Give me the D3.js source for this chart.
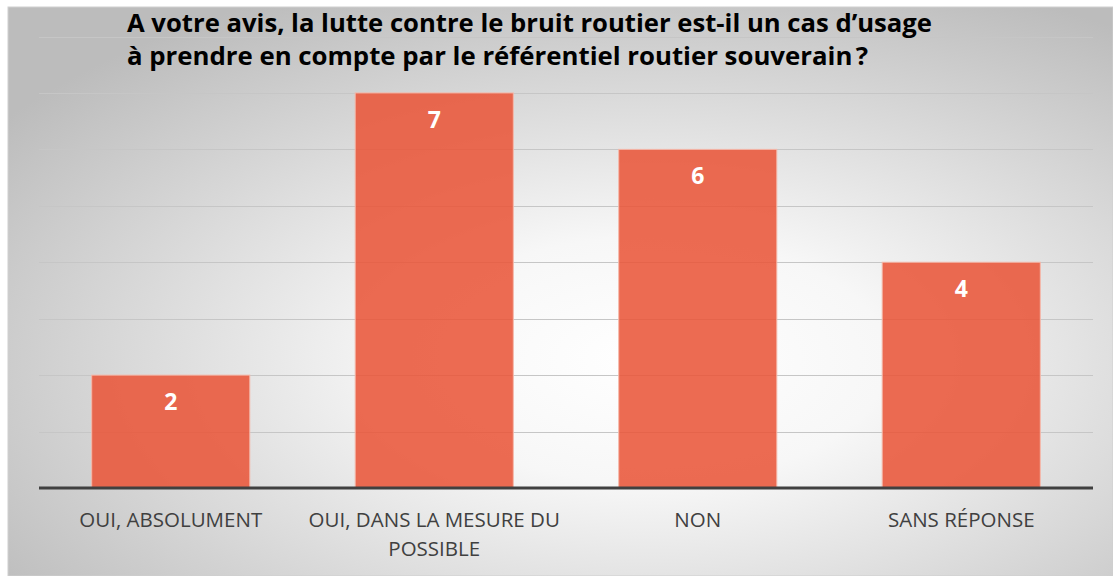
<!DOCTYPE html>
<html><head><meta charset="utf-8">
<script src="https://cdn.jsdelivr.net/npm/d3@7"></script>
<style>html,body{margin:0;padding:0;background:#fff;}</style>
</head><body>
<svg id="c" width="1113" height="576"></svg>
<script>
const categories = ["OUI, ABSOLUMENT", "OUI, DANS LA MESURE DU POSSIBLE", "NON", "SANS RÉPONSE"];
const values = [2, 7, 6, 4];
const gridTicks = [0, 1, 2, 3, 4, 5, 6, 7, 8];
const titleLines = ["A votre avis, la lutte contre le bruit routier est-il un cas d’usage", "à prendre en compte par le référentiel routier souverain\u202F?"];
const labelLines = [["OUI, ABSOLUMENT"], ["OUI, DANS LA MESURE DU", "POSSIBLE"], ["NON"], ["SANS RÉPONSE"]];

const svg = d3.select("#c");
const defs = svg.append("defs");
const rg = defs.append("radialGradient").attr("id","bg").attr("cx","58%").attr("cy","62%").attr("r","72%")
  .attr("gradientUnits","objectBoundingBox");
rg.append("stop").attr("offset","0%").attr("stop-color","#ffffff");
rg.append("stop").attr("offset","30%").attr("stop-color","#f7f7f7");
rg.append("stop").attr("offset","100%").attr("stop-color","#bcbcbc");

svg.append("rect").attr("x",8).attr("y",7).attr("width",1105).attr("height",569)
  .attr("fill","url(#bg)").attr("stroke","#cfcfcf").attr("stroke-width",1);

const x = d3.scaleBand().domain(categories).range([39, 1093]).paddingInner(0.4).paddingOuter(0.2);
const y = d3.scaleLinear().domain([0, 8]).range([488, 36.5]);

// gridlines
svg.append("g").selectAll("line").data(gridTicks.filter(d => d > 0)).join("line")
  .attr("x1", 39).attr("x2", 1093)
  .attr("y1", d => Math.round(y(d)) + 0.5).attr("y2", d => Math.round(y(d)) + 0.5)
  .attr("stroke", "#c6c6c6").attr("stroke-width", 1.2);

// bars
svg.append("g").selectAll("rect").data(values).join("rect")
  .attr("x", (d,i) => x(categories[i]))
  .attr("width", x.bandwidth())
  .attr("y", d => y(d))
  .attr("height", d => y(0) - y(d))
  .attr("fill", "#e9573a").attr("fill-opacity", 0.88)
  .attr("stroke", "#f5b8aa").attr("stroke-width", 1);

// value labels
svg.append("g").selectAll("text").data(values).join("text")
  .attr("x", (d,i) => x(categories[i]) + x.bandwidth()/2)
  .attr("y", d => y(d) + 35)
  .attr("text-anchor","middle")
  .attr("font-family","'Open Sans', sans-serif").attr("font-weight","bold")
  .attr("font-size", 23).attr("fill","#fff")
  .text(d => d);

// axis
const axis = d3.axisBottom(x).tickSize(0).tickFormat("");
const ag = svg.append("g").attr("transform",`translate(0,${y(0)})`).call(axis);
ag.select(".domain").attr("stroke","#404040").attr("stroke-width",3).attr("d","M39,0H1093");

// category labels
const lg = svg.append("g");
labelLines.forEach((lines, i) => {
  const cx = x(categories[i]) + x.bandwidth()/2;
  const t = lg.append("text")
    .attr("x", cx).attr("y", 527)
    .attr("text-anchor","middle")
    .attr("font-family","'Open Sans', sans-serif")
    .attr("font-size", 20.5).attr("fill","#404040");
  lines.forEach((l, j) => t.append("tspan").attr("x", cx).attr("dy", j ? 29 : 0).text(l));
});

// title
const titleWidths = [805, 741];
titleLines.forEach((l, j) => {
  svg.append("text").attr("x",127).attr("y", 32 + j*33)
    .attr("font-family","'Open Sans', sans-serif").attr("font-weight","bold")
    .attr("font-size",24.5).attr("fill","#000")
    .attr("textLength", titleWidths[j]).attr("lengthAdjust","spacingAndGlyphs")
    .text(l);
});
</script>
</body></html>
